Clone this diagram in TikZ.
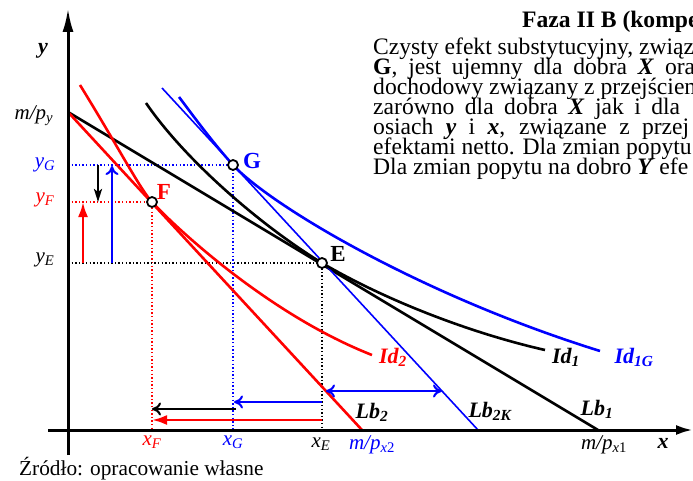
\documentclass[tikz,border=0pt]{standalone}
\usepackage{fontspec}
\setmainfont{Liberation Serif}
\usetikzlibrary{arrows.meta}
\definecolor{myred}{RGB}{255,0,0}
\definecolor{myblue}{RGB}{0,0,255}
\begin{document}
\begin{tikzpicture}[x=1pt,y=-1pt,
  axisline/.style={line width=3pt},
  curve/.style={line width=2.6pt},
  thinline/.style={line width=1.6pt},
  dots/.style={line width=1.4pt, dash pattern=on 1.4pt off 2.2pt},
  pt/.style={circle, draw=black, fill=white, line width=1.8pt, inner sep=0pt, minimum size=10pt},
  lab/.style={inner sep=0pt, font=\fontsize{21}{21}\selectfont},
  blab/.style={inner sep=0pt, font=\fontsize{22}{22}\selectfont\bfseries\itshape},
  ptlab/.style={inner sep=0pt, font=\fontsize{23}{23}\selectfont\bfseries},
  txt/.style={inner sep=0pt, anchor=base west, font=\fontsize{23.6}{20}\selectfont},
  barb/.style={-{To[length=9pt,width=13pt,line width=2pt]}, line width=2.6pt},
  dbarb/.style={{To[length=9pt,width=13pt,line width=2pt]}-{To[length=9pt,width=13pt,line width=2pt]}, line width=2.6pt},
  fullhead/.style={-{Latex[length=15pt,width=10pt]}, line width=2.6pt},
  sharp/.style={-{Stealth[length=13pt,width=8pt,inset=3pt]}, line width=2.6pt}
]
\useasboundingbox (0,0) rectangle (693,481);

% key coordinates
\coordinate (O) at (68,430);
\coordinate (Ytop) at (68,8);
\coordinate (Ybot) at (68,455);
\coordinate (Xleft) at (48,430);
\coordinate (Xright) at (693,430);
\coordinate (MPY) at (68,112);
\coordinate (MPX1) at (598,430);
\coordinate (MPX2) at (362,430);
\coordinate (K1) at (162,88);
\coordinate (K2) at (478,430);
\coordinate (E) at (322,263);
\coordinate (F) at (152,202);
\coordinate (G) at (233,165);
\coordinate (yE) at (68,263);
\coordinate (yF) at (68,202);
\coordinate (yG) at (68,165);
\coordinate (xE) at (322,430);
\coordinate (xF) at (152,430);
\coordinate (xG) at (233,430);

% dotted guides
\draw[dots,myblue] (yG) -- (G) -- (xG);
\draw[dots,myred] (yF) -- (F) -- (xF);
\draw[dots,black] (yE) -- (E) -- (xE);

% budget lines
\draw[curve,black] (MPY) -- (MPX1);
\draw[curve,myred] (MPY) -- (MPX2);
\draw[thinline,myblue] (K1) -- (K2);

% indifference curves
\draw[curve,myred] (80,85) .. controls (120,150) and (140,189) .. (F)
  .. controls (178,230) and (270,315) .. (372,355);
\draw[curve,black] (146,103) .. controls (185,160) and (260,225) .. (E)
  .. controls (385,300) and (470,333) .. (545,350);
\draw[curve,myblue] (179,97) .. controls (200,125) and (215,145) .. (G)
  .. controls (270,205) and (420,295) .. (600,351);

% axes
\draw[axisline,-{Latex[length=24pt,width=11pt]}] (Ybot) -- (Ytop);
\draw[axisline,-{Latex[length=17pt,width=10pt]}] (Xleft) -- (Xright);

% arrows on y side
\draw[fullhead,myred] (83,263) -- (83,202);
\draw[barb,myblue] (112,263) -- (112,166);
\draw[sharp,black] (98,165) -- (98,202);

% arrows on x side
\coordinate (r1) at (322,420); \coordinate (r2) at (152,420);
\coordinate (k1) at (236,409); \coordinate (k2) at (152,409);
\coordinate (b1) at (322,402); \coordinate (b2) at (234,402);
\coordinate (d1) at (326,391); \coordinate (d2) at (442,391);
\draw[fullhead,myred] (r1) -- (r2);
\draw[barb,black] (k1) -- (k2);
\draw[barb,myblue] (b1) -- (b2);
\draw[dbarb,myblue] (d1) -- (d2);

% points
\node[pt] (Ep) at (E) {};
\node[pt] (Fp) at (F) {};
\node[pt] (Gp) at (G) {};
\node[ptlab,black] (El) at (338,254) {E};
\node[ptlab,myred] (Fl) at (164,192) {F};
\node[ptlab,myblue] (Gl) at (252,161) {G};

% axis labels
\node[blab] (ylab) at (43,51) {y};
\node[blab] (xlab) at (663,443) {x};
\node[lab] (mpy) at (34,116) {\textit{m/p}\textsubscript{\textit{y}}};
\node[lab,myblue] (yGl) at (45,165) {\textit{y}\textsubscript{\textit{G}}};
\node[lab,myred] (yFl) at (45,200) {\textit{y}\textsubscript{\textit{F}}};
\node[lab,black] (yEl) at (45,260) {\textit{y}\textsubscript{\textit{E}}};
\node[lab,myred] (xFl) at (152,442) {\textit{x}\textsubscript{\textit{F}}};
\node[lab,myblue] (xGl) at (233,442) {\textit{x}\textsubscript{\textit{G}}};
\node[lab,black] (xEl) at (321,444) {\textit{x}\textsubscript{\textit{E}}};
\node[lab,myblue] (mpx2) at (372,445) {\textit{m/p}\textsubscript{\textit{x}2}};
\node[lab,black] (mpx1) at (604,445) {\textit{m/p}\textsubscript{\textit{x}1}};

% curve / line labels
\node[blab,myred] (Id2) at (393,357) {Id\textsubscript{2}};
\node[blab,black] (Id1) at (566,357) {Id\textsubscript{1}};
\node[blab,myblue] (Id1G) at (634,357) {Id\textsubscript{1G}};
\node[blab,black] (Lb2) at (372,412) {Lb\textsubscript{2}};
\node[blab,black] (Lb2K) at (490,411) {Lb\textsubscript{2K}};
\node[blab,black] (Lb1) at (597,409) {Lb\textsubscript{1}};

% text block (cut at the right edge)
\begin{scope}
\clip (0,0) rectangle (693,481);
\node[txt] (t0) at (522,28) {\textbf{Faza II B (kompen}};
\node[txt] (t1) at (373,55) {Czysty efekt substytucyjny, związ};
\node[txt] (t2) at (373,75) {\makebox[322pt][s]{\textbf{G}, jest ujemny dla dobra \textbf{\textit{X}} ora}};
\node[txt] (t3) at (373,95) {dochodowy związany z przejściem};
\node[txt] (t4) at (373,115) {\makebox[307pt][s]{zarówno dla dobra \textbf{\textit{X}} jak i dla}};
\node[txt] (t5) at (373,135) {\makebox[316pt][s]{osiach \textbf{\textit{y}} i \textbf{\textit{x}}, związane z przej}};
\node[txt] (t6) at (373,155) {efektami netto. Dla zmian popytu};
\node[txt] (t7) at (373,175) {Dla zmian popytu na dobro \textbf{\textit{Y}} efe};
\end{scope}

% source
\node[inner sep=0pt, anchor=base west, font=\fontsize{21.3}{20}\selectfont] (src) at (19,475) {Źródło: opracowanie własne};
\end{tikzpicture}
\end{document}
